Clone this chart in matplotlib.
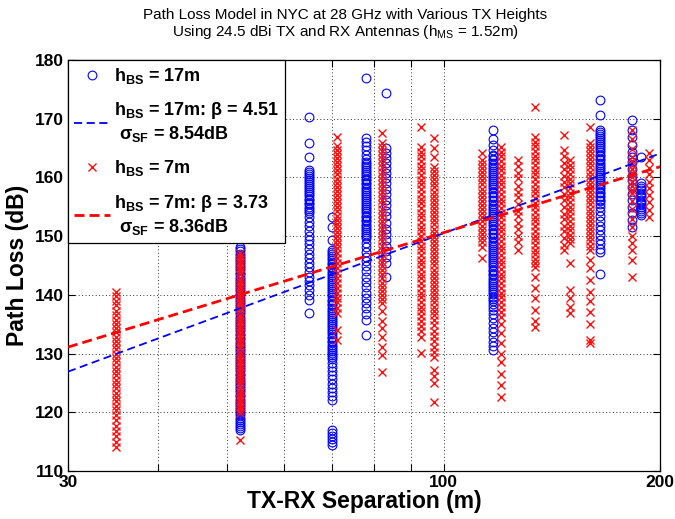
import numpy as np
import matplotlib
matplotlib.use("Agg")
import matplotlib.pyplot as plt
from matplotlib.lines import Line2D

plt.rcParams['font.family'] = ['Liberation Sans', 'DejaVu Sans']
plt.rcParams['mathtext.fontset'] = 'custom'
plt.rcParams['mathtext.rm'] = 'Liberation Sans'
plt.rcParams['mathtext.bf'] = 'Liberation Sans:bold'
plt.rcParams['mathtext.it'] = 'Liberation Sans:italic'

# ---------------- data ----------------
# h_BS = 17 m measurements (distance in m, path loss in dB per location)
d17 = [52, 65, 70, 78, 83, 117, 165, 183, 188]
pl17 = [
    [117.0,117.3,117.7,118.0,118.4,118.7,119.1,119.5,119.8,120.2,120.5,120.9,121.2,121.6,122.0,122.3,122.7,123.0,
     123.4,123.8,124.1,124.5,124.8,125.2,125.5,125.9,126.3,126.6,127.0,127.3,127.7,128.1,128.4,128.8,129.1,129.5,
     129.8,130.2,130.6,130.9,131.3,131.6,132.0,132.4,132.7,133.1,133.4,133.8,134.1,134.5,134.9,135.2,135.6,135.9,
     136.3,136.7,137.0,137.4,137.7,138.1,138.4,138.8,139.2,139.5,139.9,140.2,140.6,141.0,141.3,141.7,142.0,142.4,
     142.7,143.1,143.5,143.8,144.2,144.5,144.9,145.3,145.6,146.0,146.3,146.7,147.0,147.4,147.8,148.2],
    [170.3,165.9,163.5,161.3,161.0,160.6,160.3,159.9,159.6,159.2,158.9,158.5,158.2,157.8,157.5,157.1,156.8,156.4,
     156.1,155.7,155.4,155.0,154.7,154.3,154.0,153.2,152.4,151.7,150.9,150.1,149.4,148.6,147.8,147.0,146.3,145.5,
     144.7,143.9,143.1,142.4,141.6,140.8,140.0,139.1,136.9],
    [153.3,151.6,149.3,147.6,147.3,146.9,146.6,146.2,145.9,145.5,145.2,144.8,144.5,144.1,143.8,143.4,143.1,142.7,
     142.4,142.0,141.7,141.3,141.0,140.6,140.3,139.9,139.6,139.2,138.9,138.5,138.2,137.8,137.5,137.1,136.8,136.4,
     136.1,135.7,135.4,135.0,134.7,134.3,134.0,133.6,133.3,132.9,132.6,132.2,131.9,131.5,131.2,130.8,130.5,130.1,
     129.8,129.4,129.0,128.4,127.7,127.0,126.3,125.6,124.9,124.2,123.5,122.8,122.1,117.0,116.5,116.0,115.5,115.0,
     114.5],
    [176.9,166.7,166.0,165.3,164.6,163.9,163.2,162.6,162.3,161.9,161.6,161.2,160.9,160.5,160.2,159.8,159.5,159.1,
     158.8,158.4,158.1,157.7,157.4,157.0,156.7,156.3,156.0,155.6,155.3,154.9,154.6,154.2,153.9,153.5,153.2,152.8,
     152.5,152.1,151.8,151.4,151.1,150.7,150.4,150.0,149.7,148.9,148.1,147.3,146.5,145.7,144.9,144.0,143.1,142.2,
     141.3,140.4,139.5,138.6,137.7,136.7,135.7,133.2],
    [174.4,165.0,164.2,163.3,162.5,161.6,160.8,159.9,159.0,158.1,157.2,156.2,155.3,154.3,153.4,152.3,151.3,150.4,
     149.4,148.4,147.4,146.4,145.4,143.0],
    [168.1,166.5,165.5,164.6,163.9,163.6,163.2,162.9,162.5,162.2,161.8,161.5,161.1,160.8,160.4,160.1,159.7,159.4,
     159.0,158.7,158.3,158.0,157.6,157.3,156.9,156.6,156.2,155.9,155.5,155.2,154.8,154.5,154.1,153.8,153.4,153.1,
     152.7,152.4,152.0,151.7,151.3,151.0,150.6,150.3,149.9,149.6,149.2,148.9,148.5,148.2,147.8,147.5,147.1,146.8,
     146.4,146.1,145.7,145.4,145.0,144.7,144.3,144.0,143.6,143.3,142.9,142.6,142.2,141.9,141.5,141.2,140.8,140.5,
     140.1,139.7,139.3,138.9,138.5,138.0,137.4,136.7,136.0,135.2,134.4,133.6,132.8,132.0,131.3,130.6],
    [173.2,170.6,168.1,167.8,167.4,167.1,166.7,166.4,166.0,165.7,165.3,165.0,164.6,164.3,163.9,163.6,163.2,162.9,
     162.5,162.2,161.8,161.5,161.1,160.8,160.4,160.1,159.7,159.4,159.0,158.7,158.3,158.0,157.6,157.3,156.9,156.6,
     156.2,155.9,155.5,155.0,154.2,153.4,152.6,151.8,151.0,150.2,149.4,148.6,147.8,147.3,143.5],
    [169.8,168.1,166.9,165.6,164.3,163.5,162.6,161.4,160.3,159.5,158.4,157.2,156.1,155.0,153.9,152.8,151.6],
    [163.5,159.0,158.6,158.2,157.8,157.4,157.0,156.6,156.2,155.8,155.4,155.0,154.6,154.2,153.9,153.6],
]

# h_BS = 7 m measurements
d7 = [35, 52, 71, 82, 93, 97, 113, 120, 127, 134, 147, 150, 160, 183, 193]
pl7 = [
    [140.5,139.8,139.0,138.2,137.3,136.5,135.8,135.1,134.3,133.6,132.9,132.1,131.4,130.7,129.9,129.2,128.5,127.7,
     127.0,126.3,125.5,124.8,124.1,123.3,122.6,121.9,121.1,120.4,119.5,118.6,117.7,116.8,115.9,115.0,114.1],
    [147.1,146.6,146.1,145.6,145.0,144.5,144.0,143.5,142.9,142.4,141.9,141.4,140.8,140.3,139.8,139.3,138.7,138.2,
     137.7,137.2,136.6,136.1,135.6,135.1,134.5,134.0,133.5,133.0,132.4,131.9,131.4,130.9,130.3,129.8,129.3,128.8,
     128.2,127.7,127.2,126.7,126.1,125.6,125.1,124.6,124.0,123.5,123.0,122.5,121.9,121.4,120.9,120.4,119.9,115.3],
    [166.9,165.4,164.7,164.0,163.3,162.6,161.9,161.2,160.5,159.8,159.1,158.4,157.7,157.0,156.3,155.6,154.9,154.2,
     153.5,152.8,152.1,151.4,150.7,150.0,149.3,148.6,147.9,147.1,146.3,145.5,144.6,143.8,142.9,142.1,141.2,140.4,
     139.5,138.7,137.8,136.9,134.0,132.3],
    [167.6,165.8,165.2,164.5,163.8,163.1,162.4,161.7,161.0,160.3,159.6,158.9,158.2,157.5,156.8,156.1,155.4,154.7,
     154.0,153.3,152.6,151.9,151.2,150.5,149.8,149.1,148.4,147.7,147.0,146.3,145.6,144.9,144.2,143.5,142.8,142.1,
     141.4,140.7,140.0,139.3,138.6,137.2,135.6,134.3,132.8,131.2,129.8,126.9],
    [168.6,165.2,164.4,163.6,162.8,162.0,161.2,160.4,159.6,158.8,158.0,157.2,156.4,155.6,154.8,154.0,153.2,152.4,
     151.6,150.8,150.0,149.2,148.4,147.6,146.8,146.0,145.2,144.4,143.6,142.8,142.0,141.2,140.4,139.6,138.8,138.0,
     137.2,136.4,135.6,134.7,133.8,132.8,130.1],
    [166.7,165.0,163.5,161.8,161.1,160.4,159.7,159.0,158.3,157.6,156.9,156.2,155.5,154.8,154.1,153.4,152.7,152.0,
     151.3,150.6,149.9,149.2,148.5,147.8,147.1,146.4,145.7,145.0,144.3,143.6,142.9,142.2,141.5,140.8,140.1,139.4,
     138.7,138.0,137.3,136.5,135.7,134.8,133.9,133.0,132.1,131.2,130.3,129.4,127.2,126.2,125.0,121.7],
    [164.2,163.0,162.3,161.6,160.9,160.2,159.5,158.8,158.1,157.4,156.7,156.0,155.3,154.6,153.9,153.2,152.5,151.8,
     151.1,150.4,149.7,149.0,148.1,146.3],
    [165.2,164.4,163.6,162.8,162.0,161.2,160.4,159.6,158.8,158.0,157.2,156.4,155.6,154.8,154.0,153.2,152.4,151.6,
     150.8,150.0,149.2,148.4,147.6,146.8,146.0,145.2,144.4,143.6,142.8,142.0,141.2,140.4,139.6,138.8,138.0,137.1,
     136.2,135.0,133.5,131.8,130.0,128.5,126.5,124.6,122.6],
    [163.0,162.0,160.8,159.9,158.6,157.5,156.6,155.4,154.3,153.5,152.2,151.3,150.1,149.0,147.6],
    [172.0,166.9,166.1,165.3,164.5,163.7,162.9,162.1,161.3,160.5,159.7,158.9,158.1,157.3,156.5,155.7,154.9,154.1,
     153.3,152.5,151.7,150.9,150.1,149.3,148.5,147.7,146.9,146.1,145.4,144.7,143.0,141.2,139.5,137.5,135.5,134.5],
    [167.2,164.7,163.6,162.4,161.5,160.3,159.2,158.4,157.1,156.2,155.0,153.8,153.0,151.7,150.8,149.6,148.5,147.6],
    [163.0,162.2,161.4,160.6,159.8,159.0,158.2,157.4,156.6,155.8,155.0,154.2,153.4,152.6,151.8,151.0,150.2,149.5,
     148.8,145.4,140.8,139.5,138.0,136.9],
    [168.6,165.9,165.2,164.5,163.8,163.1,162.4,161.7,161.0,160.3,159.6,158.9,158.2,157.5,156.8,156.1,155.4,154.7,
     154.0,153.3,152.6,151.9,151.2,150.5,149.8,149.1,148.4,147.6,146.0,144.5,142.5,140.5,139.0,137.0,135.0,132.3,
     131.8],
    [168.1,166.5,164.8,163.5,162.8,162.1,161.4,160.7,160.0,159.3,158.6,157.9,157.4,156.0,154.6,153.0,151.5,150.0,
     148.8,147.6,145.9,143.0],
    [164.2,162.9,161.6,160.5,159.3,158.2,157.0,155.8,154.5,153.3],
]

# fitted models: PL(d) = A + 10 * n * log10(d)
n17, A17 = 4.51, 60.3
n7, A7 = 3.73, 76.0

xticks = [30, 40, 50, 60, 70, 80, 90, 100, 200]
xticklabels = ['30', '', '', '', '', '', '', '100', '200']
yticks = [110, 120, 130, 140, 150, 160, 170, 180]

# ---------------- plot ----------------
fig = plt.figure(figsize=(6.75, 5.19), dpi=100)
ax = fig.add_axes([0.1007, 0.0925, 0.8771, 0.7919])

x17 = np.concatenate([[d] * len(v) for d, v in zip(d17, pl17)])
y17 = np.concatenate(pl17)
x7 = np.concatenate([[d] * len(v) for d, v in zip(d7, pl7)])
y7 = np.concatenate(pl7)

circ_kw = dict(linestyle='none', marker='o', markersize=6.3, markerfacecolor='none',
               markeredgecolor='#0000ff', markeredgewidth=0.8)
x_kw = dict(linestyle='none', marker='x', markersize=5.7, markeredgecolor='#ff0f0f',
            markeredgewidth=1.0)
ax.plot(x17, y17, zorder=3, **circ_kw)
ax.plot(x7, y7, zorder=4, **x_kw)

dd = np.logspace(np.log10(30), np.log10(200), 200)
ax.plot(dd, A17 + 10 * n17 * np.log10(dd), color='#0000ff', lw=1.3, dashes=(4.5, 2.5), zorder=5)
ax.plot(dd, A7 + 10 * n7 * np.log10(dd), color='#ff0000', lw=2.0, dashes=(3.6, 1.8), zorder=5)

ax.set_xscale('log')
ax.set_xlim(30, 200)
ax.set_ylim(110, 180)
ax.set_xticks(xticks)
ax.set_xticklabels(xticklabels)
ax.xaxis.set_minor_locator(matplotlib.ticker.NullLocator())
ax.set_yticks(yticks)
ax.tick_params(which='both', direction='in', length=5, width=0.8, top=True, right=True,
               labelsize=12.5, pad=3)
for lab in ax.get_xticklabels() + ax.get_yticklabels():
    lab.set_fontweight('bold')
ax.grid(True, linestyle=(0, (1, 2.5)), color='#333333', linewidth=0.7)
for s in ax.spines.values():
    s.set_linewidth(0.9)

ax.set_xlabel('TX-RX Separation (m)', fontsize=16.5, fontweight='bold', labelpad=0)
ax.set_ylabel('Path Loss (dB)', fontsize=16.5, fontweight='bold', labelpad=4)
ax.set_title('Path Loss Model in NYC at 28 GHz with Various TX Heights\n'
             r'Using 24.5 dBi TX and RX Antennas (h$_{\mathrm{MS}}$ = 1.52m)',
             fontsize=11, linespacing=1.1, pad=17, x=0.468)

handles = [
    Line2D([], [], **circ_kw),
    Line2D([], [], color='#0000ff', lw=1.3, dashes=(4.5, 2.5)),
    Line2D([], [], **x_kw),
    Line2D([], [], color='#ff0000', lw=2.0, dashes=(3.6, 1.8)),
]
labels = [
    r'h$_{\mathbf{BS}}$ = 17m',
    'h$_{\\mathbf{BS}}$ = 17m: β = 4.51\n σ$_{\\mathbf{SF}}$ = 8.54dB',
    r'h$_{\mathbf{BS}}$ = 7m',
    'h$_{\\mathbf{BS}}$ = 7m: β = 3.73\n σ$_{\\mathbf{SF}}$ = 8.36dB',
]
leg = ax.legend(handles, labels, loc='upper left', bbox_to_anchor=(0, 1), borderaxespad=0,
                prop={'weight': 'bold', 'size': 13}, frameon=True, fancybox=False,
                edgecolor='black', framealpha=1, handlelength=2.0, handletextpad=0.2,
                labelspacing=0.78, borderpad=0.35)
leg.get_frame().set_linewidth(0.9)
leg.set_zorder(10)

fig.savefig('out.png', dpi=100)
